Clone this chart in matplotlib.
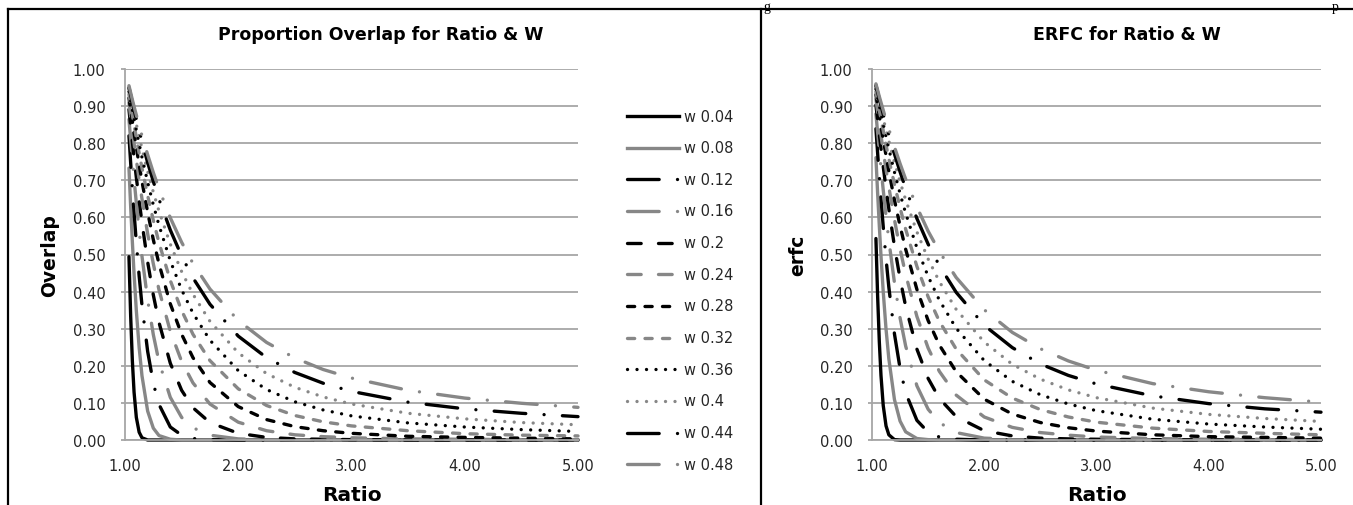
import matplotlib
matplotlib.use('Agg')
import matplotlib.pyplot as plt
from matplotlib.lines import Line2D

ratio = [1.035, 1.05, 1.065, 1.08, 1.1, 1.125, 1.15, 1.2, 1.25, 1.3, 1.4, 1.5, 1.6,
         1.75, 2.0, 2.25, 2.5, 2.75, 3.0, 3.5, 4.0, 4.5, 5.0]
w_labels = ['w 0.04', 'w 0.08', 'w 0.12', 'w 0.16', 'w 0.2', 'w 0.24',
            'w 0.28', 'w 0.32', 'w 0.36', 'w 0.4', 'w 0.44', 'w 0.48']

# left chart: proportion overlap
ov_04 = [.494, .334, .213, .129, .061, .021, .006, 0, 0, 0, 0, 0, 0, 0, 0, 0, 0, 0, 0, 0, 0, 0, 0]
ov_08 = [.733, .629, .534, .448, .349, .249, .173, .078, .032, .012, .002, 0, 0, 0, 0, 0, 0, 0, 0, 0, 0, 0, 0]
ov_12 = [.820, .747, .678, .613, .532, .442, .363, .239, .153, .096, .035, .013, .004, .001, 0, 0, 0, 0, 0, 0, 0, 0, 0]
ov_16 = [.864, .809, .756, .704, .639, .564, .495, .378, .284, .211, .115, .061, .033, .013, .003, .001, 0, 0, 0, 0, 0, 0, 0]
ov_20 = [.891, .847, .803, .761, .708, .645, .586, .480, .391, .317, .207, .134, .087, .047, .018, .007, .003, .002, .001, 0, 0, 0, 0]
ov_24 = [.909, .872, .836, .800, .755, .701, .650, .556, .475, .405, .293, .212, .154, .097, .048, .025, .014, .009, .006, .003, .002, .001, .001]
ov_28 = [.922, .890, .859, .828, .789, .742, .697, .614, .540, .475, .367, .285, .222, .155, .090, .055, .036, .025, .018, .010, .007, .005, .003]
ov_32 = [.932, .904, .876, .850, .815, .773, .733, .659, .592, .532, .430, .349, .285, .214, .138, .093, .066, .049, .038, .025, .017, .013, .011]
ov_36 = [.939, .914, .890, .866, .835, .798, .762, .695, .634, .579, .483, .405, .342, .269, .187, .136, .103, .081, .065, .046, .035, .028, .023]
ov_40 = [.946, .923, .901, .879, .851, .818, .785, .724, .668, .617, .528, .454, .393, .320, .235, .179, .142, .116, .097, .072, .057, .047, .041]
ov_44 = [.950, .930, .910, .890, .865, .834, .804, .748, .697, .649, .566, .496, .437, .366, .280, .222, .182, .153, .131, .102, .084, .072, .063]
ov_48 = [.955, .936, .917, .899, .876, .848, .820, .769, .721, .677, .599, .533, .476, .407, .322, .263, .221, .190, .167, .134, .113, .099, .088]

# right chart: erfc
er_04 = [.543, .389, .266, .174, .093, .038, .014, .001, 0, 0, 0, 0, 0, 0, 0, 0, 0, 0, 0, 0, 0, 0, 0]
er_08 = [.761, .666, .578, .497, .400, .299, .219, .109, .051, .022, .004, .001, 0, 0, 0, 0, 0, 0, 0, 0, 0, 0, 0]
er_12 = [.839, .774, .711, .651, .575, .489, .412, .286, .193, .127, .053, .021, .008, .002, 0, 0, 0, 0, 0, 0, 0, 0, 0]
er_16 = [.879, .829, .781, .734, .674, .604, .538, .424, .329, .253, .146, .083, .047, .020, .005, .002, 0, 0, 0, 0, 0, 0, 0]
er_20 = [.903, .863, .824, .786, .737, .678, .623, .522, .435, .360, .245, .166, .112, .063, .025, .011, .005, .003, .002, .001, 0, 0, 0]
er_24 = [.919, .886, .853, .821, .779, .729, .682, .594, .515, .446, .333, .248, .185, .121, .062, .034, .020, .013, .008, .004, .002, .002, .001]
er_28 = [.931, .902, .874, .846, .810, .767, .725, .647, .577, .514, .406, .322, .256, .184, .110, .070, .047, .033, .024, .014, .009, .007, .005]
er_32 = [.939, .914, .889, .865, .834, .795, .758, .689, .626, .568, .468, .386, .320, .245, .162, .113, .082, .062, .048, .032, .023, .018, .014]
er_36 = [.946, .924, .902, .880, .852, .818, .785, .722, .664, .611, .518, .441, .377, .301, .214, .158, .122, .097, .079, .056, .043, .035, .029]
er_40 = [.952, .931, .911, .892, .866, .836, .806, .749, .696, .647, .561, .488, .427, .352, .264, .204, .164, .135, .114, .086, .069, .058, .050]
er_44 = [.956, .938, .919, .902, .878, .850, .823, .771, .723, .678, .597, .528, .470, .398, .309, .249, .205, .174, .151, .119, .098, .084, .075]
er_48 = [.960, .943, .926, .910, .889, .863, .838, .790, .745, .703, .628, .563, .508, .438, .351, .290, .246, .213, .188, .152, .130, .114, .102]

overlap = [ov_04, ov_08, ov_12, ov_16, ov_20, ov_24, ov_28, ov_32, ov_36, ov_40, ov_44, ov_48]
erfc = [er_04, er_08, er_12, er_16, er_20, er_24, er_28, er_32, er_36, er_40, er_44, er_48]

BLACK, GREY = '#000000', '#878787'
LDD = (0, (9.5, 5.5, 0.01, 5.5))   # long dash dot
DSH = (0, (4.1, 5.2))              # dash
SDS = (0, (2.15, 3.1))             # short dash
DOT = (0, (0.01, 2.84))            # round dot
styles = [(BLACK, '-'), (GREY, '-'), (BLACK, LDD), (GREY, LDD), (BLACK, DSH), (GREY, DSH),
          (BLACK, SDS), (GREY, SDS), (BLACK, DOT), (GREY, DOT), (BLACK, LDD), (GREY, LDD)]
LW = 2.4

W, H = 1353, 506
fig = plt.figure(figsize=(W / 100, H / 100), dpi=100)
axL = fig.add_axes([125 / W, 1 - 441 / H, 453 / W, 371 / H])
axR = fig.add_axes([872 / W, 1 - 441 / H, 449 / W, 371 / H])

for ax, series, ylab in [(axL, overlap, 'Overlap'), (axR, erfc, 'erfc')]:
    for ys, (c, ls) in zip(series, styles):
        ax.plot(ratio, ys, color=c, linestyle=ls, lw=LW, dash_capstyle='round',
                solid_capstyle='round', solid_joinstyle='round', clip_on=False)
    ax.set_xlim(1, 5)
    ax.set_ylim(0, 1)
    ax.set_xticks([1, 2, 3, 4, 5])
    ax.set_yticks([i / 10 for i in range(11)])
    ax.xaxis.set_major_formatter('{x:.2f}')
    ax.yaxis.set_major_formatter('{x:.2f}')
    ax.tick_params(axis='y', labelsize=10.5, length=3, width=1.3, color='#a6a6a6',
                   labelcolor='#262626', pad=11)
    ax.tick_params(axis='x', labelsize=10.5, length=0, labelcolor='#262626', pad=13)
    ax.grid(axis='y', color='#a6a6a6', lw=1.3)
    ax.set_axisbelow(True)
    for s in ['top', 'right']:
        ax.spines[s].set_visible(False)
    for s in ['left', 'bottom']:
        ax.spines[s].set_color('#a6a6a6')
        ax.spines[s].set_linewidth(1.3)
    ax.set_xlabel('Ratio', fontsize=14.5, fontweight='bold')
    ax.set_ylabel(ylab, fontsize=13.5, fontweight='bold')
    ax.xaxis.set_label_coords(0.5, -0.122)

axL.yaxis.set_label_coords(-0.146, 0.5)
axR.yaxis.set_label_coords(-0.145, 0.5)

fig.text(381 / W, 1 - 35 / H, 'Proportion Overlap for Ratio & W', fontsize=12.5,
         fontweight='bold', ha='center', va='center')
fig.text(1127 / W, 1 - 35 / H, 'ERFC for Ratio & W', fontsize=12.5,
         fontweight='bold', ha='center', va='center')

# legend of the left chart
for i, (lab, (c, ls)) in enumerate(zip(w_labels, styles)):
    y = 1 - (117 + i * 31.65) / H
    fig.add_artist(Line2D([627 / W, 679 / W], [y, y], color=c, linestyle=ls, lw=LW,
                          dash_capstyle='round'))
    fig.text(684 / W, y, lab, fontsize=10.5, va='center', color='#262626')

# chart frames
fig.add_artist(Line2D([7.5 / W, 7.5 / W], [0, 1 - 10 / H], color='black', lw=1.6))
fig.add_artist(Line2D([7.5 / W, 1], [1 - 10 / H, 1 - 10 / H], color='black', lw=1.6))
fig.add_artist(Line2D([761 / W, 761 / W], [0, 1 - 10 / H], color='black', lw=1.6))

# bits of the caption line above the charts
for x, ch in [(763, 'g'), (1332, 'p')]:
    fig.text(x / W, 1 - 0.5 / H, ch, fontsize=10, family='Liberation Serif', va='top')

fig.savefig('out.png', dpi=100)
